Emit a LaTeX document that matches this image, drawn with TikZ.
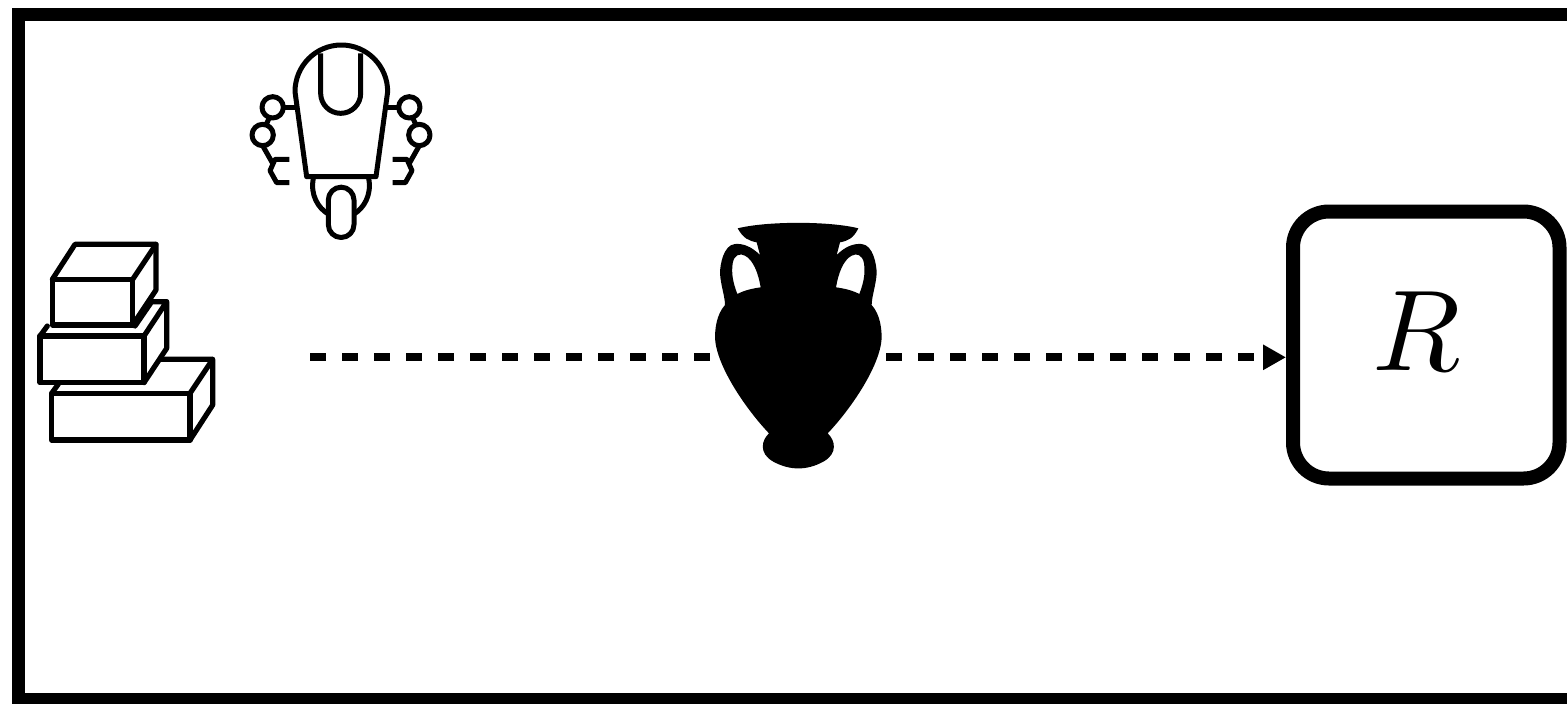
\documentclass[tikz,border=0pt]{standalone}
\usetikzlibrary{arrows.meta}
\tikzset{
  frameline/.style={line width=6.5pt,draw=black,line join=miter},
  boxnode/.style={draw=black,line width=7pt,rounded corners=18pt,minimum width=133.25pt,minimum height=133.5pt,inner sep=0pt,fill=white},
  iconline/.style={draw=black,line width=2.5pt,line join=round,line cap=butt},
  blockline/.style={draw=black,line width=2.6pt,line join=round,line cap=round},
  flowarrow/.style={draw=black,line width=4pt,dash pattern=on 8pt off 8pt,-{Triangle[length=11.5pt,width=12pt]}},
}
\begin{document}
\begin{tikzpicture}[x=0.5pt,y=-0.5pt]
\clip (0,0) rectangle (1567,703);
\fill[white] (0,0) rectangle (1567,703);
% frame, open at the right edge
\draw[frameline] (1600,14.5) -- (18.5,14.5) -- (18.5,699.5) -- (1600,699.5);
% reward box
\node[boxnode] (box) at (1426.25,345) {};
\node[scale=5.75,inner sep=0pt] (rlabel) at (1417,331.5) {$R$};
% connector
\coordinate (start) at (310,357.3);
\draw[flowarrow] (start) -- (start -| box.west);
% vase
\begin{scope}[shift={(690,210)},scale=1/3]
\fill[black,even odd rule]
  (143,55) .. controls (230,33) and (420,33) .. (505,55)
  .. controls (490,85) and (475,92) .. (450,97)
  -- (440,135) .. controls (465,110) and (490,100) .. (515,102)
  .. controls (550,105) and (560,165) .. (560,190)
  .. controls (558,225) and (545,260) .. (545,285)
  .. controls (572,315) and (575,360) .. (575,385)
  .. controls (570,470) and (480,600) .. (413,670)
  .. controls (435,690) and (445,730) .. (400,755)
  .. controls (350,782) and (300,782) .. (250,755)
  .. controls (205,730) and (215,690) .. (237,670)
  .. controls (170,600) and (80,470) .. (75,385)
  .. controls (75,360) and (78,315) .. (105,285)
  .. controls (105,260) and (92,225) .. (90,190)
  .. controls (90,165) and (100,105) .. (135,102)
  .. controls (160,100) and (185,110) .. (210,135)
  -- (200,97) .. controls (175,92) and (160,85) .. (143,55) -- cycle
  (142,252) .. controls (128,215) and (124,190) .. (128,160)
  .. controls (132,135) and (150,128) .. (165,137)
  .. controls (190,150) and (205,190) .. (212,232)
  .. controls (190,235) and (165,240) .. (142,252) -- cycle
  (508,252) .. controls (522,215) and (526,190) .. (522,160)
  .. controls (518,135) and (500,128) .. (485,137)
  .. controls (460,150) and (445,190) .. (438,232)
  .. controls (460,235) and (485,240) .. (508,252) -- cycle;
\end{scope}
% robot
\begin{scope}[shift={(230,30)},scale=1/3,every path/.append style={iconline}]
\draw (230,440) -- (195,185) arc[start angle=180,end angle=360,x radius=139,y radius=140] -- (438,440) -- cycle;
\draw (272,70) -- (272,190) arc[start angle=180,end angle=0,radius=60] -- (392,70);
\draw (195,232) -- (160,232);
\draw (128,232) circle[radius=32];
\draw (98,315) circle[radius=32];
\draw (118,263) -- (108,285);
\draw (98,347) -- (128,400);
\draw (178,388) -- (135,388) -- (120,422) -- (140,458) -- (178,458);
\draw (472,232) -- (506,232);
\draw (538,232) circle[radius=32];
\draw (568,315) circle[radius=32];
\draw (548,263) -- (558,285);
\draw (568,347) -- (538,400);
\draw (488,388) -- (531,388) -- (546,422) -- (526,458) -- (488,458);
\draw (250,445) .. controls (240,495) and (265,535) .. (295,552);
\draw (416,445) .. controls (426,495) and (401,535) .. (372,552);
\draw (295,510) arc[start angle=180,end angle=360,radius=38.5] -- (372,584) arc[start angle=0,end angle=180,radius=38.5] -- cycle;
\end{scope}
% stacked blocks
\begin{scope}[shift={(20,230)},scale=1/3,every path/.append style={blockline}]
\draw (97,148) rectangle (338,285);
\draw (97,148) -- (165,43) -- (408,43) -- (338,148);
\draw (408,43) -- (408,180) -- (338,285);
\draw (60,318) rectangle (372,458);
\draw (60,318) -- (82,288);
\draw (345,288) -- (395,215) -- (440,215) -- (372,318);
\draw (440,215) -- (440,355) -- (372,458);
\draw (95,490) rectangle (510,630);
\draw (95,490) -- (115,462);
\draw (420,388) -- (578,388) -- (510,490);
\draw (578,388) -- (578,525) -- (510,630);
\end{scope}
\end{tikzpicture}
\end{document}
